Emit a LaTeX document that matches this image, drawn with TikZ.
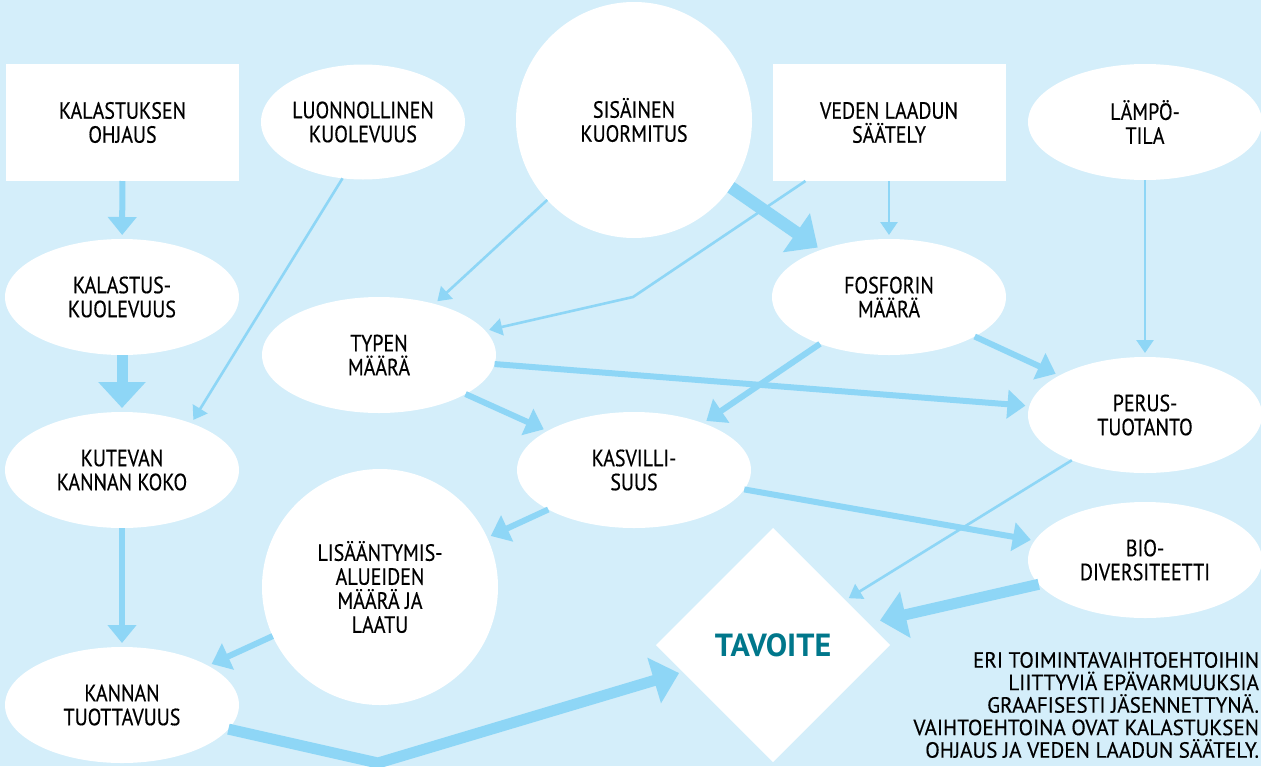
\documentclass[tikz,border=0pt]{standalone}
\usepackage{fontspec}
\setmainfont{PT Sans}[FakeStretch=0.85, FakeBold=0.4]
\newfontfamily\notefont{PT Sans}[FakeStretch=0.96, FakeBold=0.4]
\newfontfamily\goalfont{PT Sans}
\usetikzlibrary{arrows.meta,shapes.geometric}
\definecolor{bg}{HTML}{D4EEFA}
\definecolor{arr}{HTML}{8ED6F6}
\definecolor{goal}{HTML}{00778B}
\begin{document}
\begin{tikzpicture}[x=1pt,y=-1pt,
  every node/.style={inner sep=0pt, outer sep=0pt, align=center,
    font=\fontsize{23.5}{24}\selectfont},
  boxnode/.style={rectangle, fill=white, minimum width=233pt, minimum height=117pt},
  ovalnode/.style={ellipse, fill=white, minimum width=234pt, minimum height=116pt},
  roundnode/.style={circle, fill=white, minimum size=236pt},
  goalnode/.style={diamond, fill=white, minimum width=234pt, minimum height=234pt,
    text=goal, font=\goalfont\bfseries\fontsize{32}{32}\selectfont},
  thinarr/.style={draw=arr, line width=2.6pt, -{Triangle[length=13pt,width=17pt]}, shorten >=4pt},
  midarr/.style={draw=arr, line width=6pt, -{Triangle[length=18pt,width=28pt]}, shorten >=4pt},
  thickarr/.style={draw=arr, line width=11pt, -{Triangle[length=26pt,width=46pt]}, shorten >=4pt},
]
\useasboundingbox (0,0) rectangle (1261,766);
\fill[bg] (0,0) rectangle (1261,766);

% nodes
\node[boxnode] (ohjaus) at (122.5,122.5) {KALASTUKSEN\\OHJAUS};
\node[ovalnode, minimum width=204pt, minimum height=115pt] (luon) at (363,122) {LUONNOLLINEN\\KUOLEVUUS};
\node[roundnode] (sis) at (634,120) {SISÄINEN\\KUORMITUS};
\node[boxnode] (veden) at (889,122.5) {VEDEN LAADUN\\SÄÄTELY};
\node[ovalnode] (lampo) at (1145,122) {LÄMPÖ-\\TILA};
\node[ovalnode] (kkuol) at (122,297) {KALASTUS-\\KUOLEVUUS};
\node[ovalnode] (typen) at (379,355) {TYPEN\\MÄÄRÄ};
\node[ovalnode] (fosf) at (889,297) {FOSFORIN\\MÄÄRÄ};
\node[ovalnode] (perus) at (1145,415) {PERUS-\\TUOTANTO};
\node[ovalnode] (kutev) at (122,470) {KUTEVAN\\KANNAN KOKO};
\node[ovalnode] (kasv) at (634,470) {KASVILLI-\\SUUS};
\node[roundnode] (lisa) at (380,587) {LISÄÄNTYMIS-\\ALUEIDEN\\MÄÄRÄ JA\\LAATU};
\node[ovalnode] (bio) at (1145,560) {BIO-\\DIVERSITEETTI};
\node[ovalnode] (tuott) at (122,705) {KANNAN\\TUOTTAVUUS};
\node[goalnode] (goal) at (773,645) {TAVOITE};
\node[anchor=north east, align=right, font=\notefont\fontsize{22}{22.5}\selectfont] (note) at (1259,652)
  {ERI TOIMINTAVAIHTOEHTOIHIN\\LIITTYVIÄ EPÄVARMUUKSIA\\GRAAFISESTI JÄSENNETTYNÄ.\\VAIHTOEHTOINA OVAT KALASTUKSEN\\OHJAUS JA VEDEN LAADUN SÄÄTELY.};

% bend points
\coordinate (vbend) at (633,297);
\coordinate (tbend) at (378,763);

% connectors
\draw[midarr] (ohjaus) -- (kkuol);
\draw[thickarr] (kkuol) -- (kutev);
\draw[midarr] (kutev) -- (tuott);
\draw[thinarr] (luon.250) -- (kutev.34);
\draw[thinarr] (sis) -- (typen);
\draw[thickarr, line width=12.5pt] (sis) -- (fosf);
\draw[thinarr] (veden.215) -- (vbend) -- (typen);
\draw[thinarr] (veden) -- (fosf);
\draw[thinarr] (lampo) -- (perus);
\draw[midarr] (typen) -- (perus);
\draw[midarr] (fosf) -- (perus);
\draw[midarr] (typen) -- (kasv);
\draw[midarr] (fosf) -- (kasv);
\draw[midarr] (kasv) -- (lisa);
\draw[midarr] (kasv) -- (bio);
\draw[thinarr] (perus) -- (goal);
\draw[thickarr, shorten >=12pt] (bio) -- (goal);
\draw[midarr] (lisa) -- (tuott);
\draw[thickarr] (tuott) -- (tbend) -- (goal);
\end{tikzpicture}
\end{document}
